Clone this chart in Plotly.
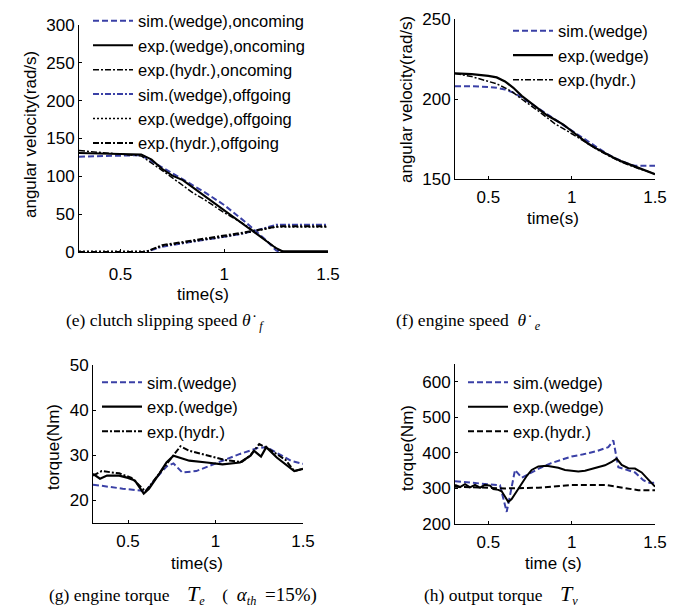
import plotly.graph_objects as go

W, H = 685, 610
BLUE = "#3a40a6"

# ---------------- data: panel (e) clutch slipping speed ----------------
e_t_sim_on = [0.3, 0.45, 0.6, 0.7, 0.8, 0.9, 1.0, 1.1, 1.2, 1.25, 1.27, 1.5]
e_v_sim_on = [126, 127, 128, 112, 96, 80, 62, 40, 16, 2, 0, 0]
e_t_exp_on = [0.3, 0.45, 0.6, 0.65, 0.7, 0.75, 0.8, 0.85, 0.9, 0.95, 1.0, 1.05, 1.1, 1.15, 1.2, 1.25, 1.28, 1.5]
e_v_exp_on = [131, 130, 129, 122, 110, 101, 95, 85, 75, 64, 54, 45, 35, 25, 14, 5, 1, 1]
e_t_hyd_on = [0.3, 0.45, 0.6, 0.7, 0.8, 0.85, 0.9, 1.0, 1.1, 1.2, 1.26, 1.29, 1.5]
e_v_hyd_on = [134, 130, 127, 108, 88, 78, 70, 52, 36, 16, 3, 0, 0]
e_t_sim_off = [0.3, 0.62, 0.7, 0.8, 0.9, 1.0, 1.1, 1.2, 1.25, 1.5]
e_v_sim_off = [0, 0, 7, 12, 16, 20, 25, 32, 36, 36]
e_t_exp_off = [0.3, 0.63, 0.7, 0.8, 0.9, 1.0, 1.1, 1.2, 1.25, 1.5]
e_v_exp_off = [1, 1, 8, 12, 16, 20, 25, 30, 33, 33]
e_t_hyd_off = [0.3, 0.62, 0.7, 0.8, 0.9, 1.0, 1.1, 1.2, 1.26, 1.5]
e_v_hyd_off = [0, 0, 9, 13, 17, 21, 26, 31, 34, 34]

# ---------------- data: panel (f) engine speed ----------------
f_t_exp = [0.3, 0.4, 0.5, 0.55, 0.6, 0.65, 0.7, 0.75, 0.8, 0.85, 0.9, 0.95, 1.0, 1.05, 1.1, 1.15, 1.2, 1.25, 1.3, 1.35, 1.4, 1.45, 1.5]
f_v_exp = [216, 215.5, 214.5, 213.5, 211, 207, 202, 198, 194, 190, 187, 184, 180, 176, 172, 169, 166, 163.5, 161, 159, 157, 155, 153]
f_t_sim = [0.3, 0.4, 0.5, 0.55, 0.6, 0.65, 0.7, 0.75, 0.8, 0.85, 0.9, 0.95, 1.0, 1.05, 1.1, 1.15, 1.2, 1.25, 1.3, 1.35, 1.38, 1.5]
f_v_sim = [208, 208, 207.5, 207, 206, 204, 201, 197.5, 194, 190.5, 187, 183.5, 180, 176.5, 173, 169.5, 166.5, 163.5, 161, 159, 158.3, 158.3]
f_t_hyd = [0.3, 0.4, 0.5, 0.55, 0.6, 0.65, 0.7, 0.75, 0.8, 0.85, 0.9, 0.95, 1.0, 1.05, 1.1, 1.15, 1.2, 1.25, 1.3, 1.35, 1.4, 1.45, 1.5]
f_v_hyd = [216, 214, 211, 209.5, 207, 204, 200, 196.5, 192.5, 188.5, 184.5, 181.5, 178.5, 175.5, 172, 168.5, 165.5, 163, 160.5, 158.5, 156.5, 155, 153]

# ---------------- data: panel (g) engine torque ----------------
g_t_sim = [0.3, 0.4, 0.47, 0.57, 0.6, 0.665, 0.72, 0.76, 0.81, 0.89, 0.96, 1.04, 1.14, 1.24, 1.29, 1.33, 1.43, 1.5]
g_v_sim = [23.5, 22.9, 22.6, 22.2, 22.0, 25.1, 27.5, 28.2, 26.2, 26.5, 27.5, 28.8, 30.3, 31.6, 31.8, 31.0, 28.8, 28.1]
g_t_exp = [0.3, 0.34, 0.38, 0.45, 0.5, 0.54, 0.59, 0.62, 0.68, 0.72, 0.76, 0.85, 0.95, 1.04, 1.14, 1.2, 1.22, 1.26, 1.29, 1.35, 1.45, 1.5]
g_v_exp = [25.9, 24.8, 25.5, 25.5, 25.0, 24.4, 21.5, 22.6, 26.0, 28.4, 29.9, 28.8, 28.4, 28.0, 28.4, 29.9, 31.0, 29.7, 31.8, 29.5, 26.5, 27.0]
g_t_hyd = [0.3, 0.35, 0.45, 0.52, 0.6, 0.68, 0.75, 0.8, 0.85, 0.95, 1.05, 1.15, 1.2, 1.25, 1.3, 1.4, 1.45, 1.5]
g_v_hyd = [25.5, 26.5, 26.0, 25.0, 22.0, 26.0, 29.5, 32.0, 31.0, 30.0, 29.0, 28.5, 30.0, 32.5, 31.5, 29.0, 26.5, 27.0]

# ---------------- data: panel (h) output torque ----------------
h_t_sim = [0.3, 0.4, 0.5, 0.57, 0.59, 0.61, 0.63, 0.66, 0.7, 0.75, 0.8, 0.87, 0.95, 1.0, 1.07, 1.15, 1.22, 1.25, 1.28, 1.33, 1.38, 1.43, 1.47, 1.5]
h_v_sim = [320, 317, 312, 309, 270, 234, 280, 352, 330, 343, 355, 370, 382, 390, 396, 405, 416, 435, 360, 352, 345, 323, 315, 316]
h_t_exp = [0.3, 0.33, 0.36, 0.39, 0.42, 0.45, 0.48, 0.51, 0.53, 0.56, 0.58, 0.6, 0.62, 0.64, 0.67, 0.7, 0.73, 0.76, 0.8, 0.85, 0.88, 0.92, 0.96, 1.0, 1.04, 1.08, 1.12, 1.16, 1.2, 1.24, 1.27, 1.3, 1.34, 1.38, 1.42, 1.46, 1.5]
h_v_exp = [310, 304, 312, 303, 310, 302, 310, 308, 298, 296, 292, 275, 262, 270, 292, 315, 335, 352, 362, 364, 362, 358, 352, 350, 348, 350, 355, 358, 365, 375, 384, 366, 357, 356, 345, 325, 305]
h_t_hyd = [0.3, 0.5, 0.6, 0.8, 0.9, 1.0, 1.2, 1.3, 1.4, 1.5]
h_v_hyd = [305, 302, 300, 302, 305, 310, 310, 302, 295, 295]

# ---------------- layout helpers ----------------
def fx(px):
    return px / W

def fy(py):
    return 1 - py / H

SANS = "Liberation Sans, Arial, sans-serif"
TICKFONT = dict(family=SANS, size=17, color="black")
TITLEFONT = dict(family=SANS, size=17, color="black")
LEGFONT = dict(family=SANS, size=16.5, color="black")
CAPFONT = dict(family="Liberation Serif, Times New Roman, serif", size=17.5, color="black")

DASH = "6px,3px"
DASHDOT = "6px,2px,2px,2px"
DOT = "2px,2px"

fig = go.Figure()

def add(t, v, name, color, dash, width, xa, ya, legend):
    fig.add_trace(go.Scatter(
        x=t, y=v, name=name, mode="lines",
        line=dict(color=color, dash=dash, width=width),
        xaxis=xa, yaxis=ya, legend=legend,
    ))

# panel e
add(e_t_sim_on, e_v_sim_on, "sim.(wedge),oncoming", BLUE, DASH, 2, "x", "y", "legend")
add(e_t_exp_on, e_v_exp_on, "exp.(wedge),oncoming", "black", "solid", 2, "x", "y", "legend")
add(e_t_hyd_on, e_v_hyd_on, "exp.(hydr.),oncoming", "black", DASHDOT, 1.5, "x", "y", "legend")
add(e_t_sim_off, e_v_sim_off, "sim.(wedge),offgoing", BLUE, DASHDOT, 2, "x", "y", "legend")
add(e_t_exp_off, e_v_exp_off, "exp.(wedge),offgoing", "black", DOT, 1.5, "x", "y", "legend")
add(e_t_hyd_off, e_v_hyd_off, "exp.(hydr.),offgoing", "black", DASHDOT, 2, "x", "y", "legend")
# panel f
add(f_t_sim, f_v_sim, "sim.(wedge)", BLUE, DASH, 2, "x2", "y2", "legend2")
add(f_t_exp, f_v_exp, "exp.(wedge)", "black", "solid", 2.2, "x2", "y2", "legend2")
add(f_t_hyd, f_v_hyd, "exp.(hydr.)", "black", DASHDOT, 1.5, "x2", "y2", "legend2")
# panel g
add(g_t_sim, g_v_sim, "sim.(wedge)", BLUE, DASH, 2, "x3", "y3", "legend3")
add(g_t_exp, g_v_exp, "exp.(wedge)", "black", "solid", 2.2, "x3", "y3", "legend3")
add(g_t_hyd, g_v_hyd, "exp.(hydr.)", "black", DASHDOT, 2, "x3", "y3", "legend3")
# panel h
add(h_t_sim, h_v_sim, "sim.(wedge)", BLUE, DASH, 2, "x4", "y4", "legend4")
add(h_t_exp, h_v_exp, "exp.(wedge)", "black", "solid", 2, "x4", "y4", "legend4")
add(h_t_hyd, h_v_hyd, "exp.(hydr.)", "black", DASH, 2, "x4", "y4", "legend4")

def axis(dom, rng, tv, **kw):
    return dict(domain=dom, range=rng, tickvals=tv, showline=True, linecolor="black",
                linewidth=1, ticks="inside", ticklen=3, tickcolor="black",
                showgrid=False, zeroline=False, tickfont=TICKFONT, mirror=False, **kw)

XT = [0.5, 1, 1.5]
layout = dict(
    width=W, height=H, margin=dict(l=0, r=0, t=0, b=0, autoexpand=False),
    paper_bgcolor="white", plot_bgcolor="white", showlegend=True,
    xaxis=axis([fx(79), fx(328)], [0.3, 1.5], XT, anchor="y", ticklabelstandoff=7),
    yaxis=axis([fy(252), fy(25)], [0, 300], [0, 50, 100, 150, 200, 250, 300], anchor="x"),
    xaxis2=axis([fx(455), fx(655)], [0.3, 1.5], XT, anchor="y2", ticklabelstandoff=3),
    yaxis2=axis([fy(179), fy(19)], [150, 250], [150, 200, 250], anchor="x2"),
    xaxis3=axis([fx(93), fx(303)], [0.3, 1.5], XT, anchor="y3", ticklabelstandoff=3),
    yaxis3=axis([fy(523), fy(365)], [15, 50], [20, 30, 40, 50], anchor="x3"),
    xaxis4=axis([fx(455), fx(655)], [0.3, 1.5], XT, anchor="y4", ticklabelstandoff=3),
    yaxis4=axis([fy(524), fy(364)], [200, 650], [200, 300, 400, 500, 600], anchor="x4"),
)

LEG = dict(bgcolor="rgba(0,0,0,0)", font=LEGFONT, xanchor="left", yanchor="top",
           itemwidth=40, tracegroupgap=0)
layout["legend"] = dict(LEG, x=fx(88), y=fy(3.5))
layout["legend2"] = dict(LEG, x=fx(508), y=fy(13.5))
layout["legend3"] = dict(LEG, x=fx(97), y=fy(365))
layout["legend4"] = dict(LEG, x=fx(463), y=fy(365))
fig.update_layout(**layout)

ann = []
def txt(px, py, s, font, angle=0, xanchor="center"):
    ann.append(dict(x=fx(px), y=fy(py), xref="paper", yref="paper", text=s, showarrow=False,
                    font=font, textangle=angle, xanchor=xanchor, yanchor="middle"))

# axis titles
txt(30, 135, "angular velocity(rad/s)", TITLEFONT, -90)
txt(407, 100, "angular velocity(rad/s)", TITLEFONT, -90)
txt(53, 447, "torque(Nm)", TITLEFONT, -90)
txt(407, 448, "torque(Nm)", TITLEFONT, -90)
txt(203, 294, "time(s)", TITLEFONT)
txt(553, 218, "time(s)", TITLEFONT)
txt(197, 563, "time(s)", TITLEFONT)
txt(553, 563, "time (s)", TITLEFONT)

# captions
EM, EN = "\u2003", "\u2002"
txt(165, 321, "(e) clutch slipping speed <i>θ̇</i>" + EN + "<sub><i>f</i></sub>", CAPFONT)
txt(468, 321, "(f) engine speed" + EN + "<i>θ̇</i>" + EN + "<sub><i>e</i></sub>", CAPFONT)
txt(183, 594, "(g) engine torque" + EM + "<span style='font-size:22px'><i>T</i></span><sub><i>e</i></sub>"
    + EM + "(" + EN + "<span style='font-size:19px'><i>α</i></span><sub><i>th</i></sub>" + EN
    + "<span style='font-size:19px'>=15%)</span>", CAPFONT)
txt(501, 594, "(h) output torque" + EM + "<span style='font-size:22px'><i>T</i></span><sub><i>v</i></sub>", CAPFONT)

fig.update_layout(annotations=ann)
fig.write_html("out.html")
